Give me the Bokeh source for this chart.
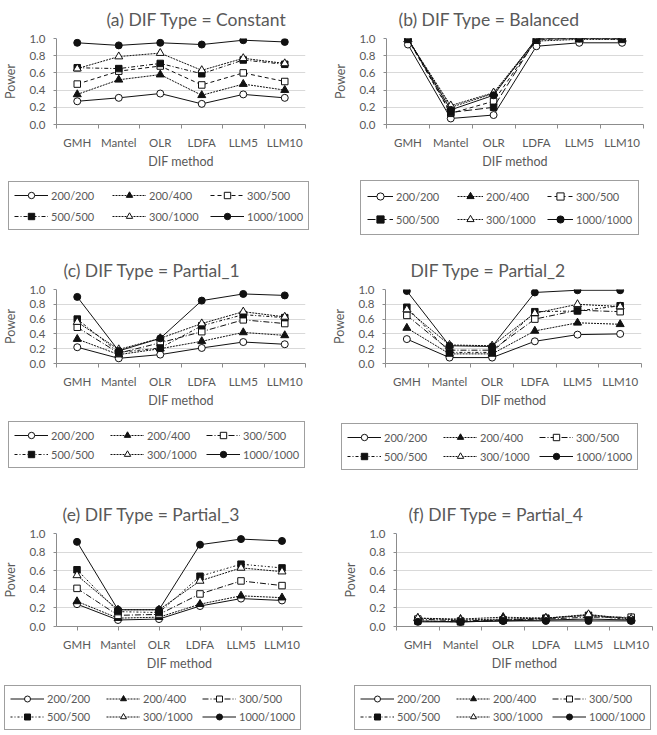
from bokeh.plotting import figure
from bokeh.layouts import column, row
from bokeh.models import (Legend, LegendItem, FixedTicker, Range1d, ColumnDataSource,
                          NumeralTickFormatter, Title)
from bokeh.embed import file_html
from bokeh.resources import INLINE

# ---------------- data ----------------
methods = ["GMH", "Mantel", "OLR", "LDFA", "LLM5", "LLM10"]
series_names = ["200/200", "200/400", "300/500", "500/500", "300/1000", "1000/1000"]
power_ticks = [0.0, 0.2, 0.4, 0.6, 0.8, 1.0]

# (a) Constant
constant_200_200 = [0.27, 0.31, 0.36, 0.24, 0.35, 0.31]
constant_200_400 = [0.35, 0.52, 0.58, 0.34, 0.47, 0.40]
constant_300_500 = [0.47, 0.62, 0.68, 0.46, 0.60, 0.50]
constant_500_500 = [0.66, 0.65, 0.71, 0.59, 0.75, 0.70]
constant_300_1000 = [0.65, 0.79, 0.83, 0.63, 0.77, 0.71]
constant_1000_1000 = [0.95, 0.92, 0.95, 0.93, 0.98, 0.96]

# (b) Balanced
balanced_200_200 = [0.93, 0.07, 0.11, 0.91, 0.95, 0.95]
balanced_200_400 = [0.99, 0.20, 0.36, 0.97, 0.99, 0.99]
balanced_300_500 = [0.99, 0.13, 0.27, 0.99, 1.00, 0.99]
balanced_500_500 = [1.00, 0.14, 0.20, 1.00, 1.00, 1.00]
balanced_300_1000 = [0.99, 0.22, 0.37, 0.99, 1.00, 1.00]
balanced_1000_1000 = [1.00, 0.17, 0.34, 1.00, 1.00, 1.00]

# (c) Partial_1
partial1_200_200 = [0.22, 0.07, 0.12, 0.21, 0.29, 0.26]
partial1_200_400 = [0.33, 0.12, 0.20, 0.30, 0.42, 0.38]
partial1_300_500 = [0.49, 0.14, 0.28, 0.43, 0.59, 0.54]
partial1_500_500 = [0.60, 0.15, 0.21, 0.51, 0.66, 0.62]
partial1_300_1000 = [0.56, 0.19, 0.34, 0.54, 0.70, 0.63]
partial1_1000_1000 = [0.90, 0.17, 0.34, 0.85, 0.94, 0.92]

# (d) Partial_2
partial2_200_200 = [0.33, 0.08, 0.08, 0.30, 0.39, 0.40]
partial2_200_400 = [0.48, 0.13, 0.13, 0.44, 0.55, 0.53]
partial2_300_500 = [0.65, 0.18, 0.18, 0.60, 0.72, 0.70]
partial2_500_500 = [0.76, 0.15, 0.15, 0.70, 0.71, 0.78]
partial2_300_1000 = [0.73, 0.25, 0.24, 0.68, 0.80, 0.77]
partial2_1000_1000 = [0.98, 0.24, 0.23, 0.96, 0.99, 0.99]

# (e) Partial_3
partial3_200_200 = [0.24, 0.07, 0.08, 0.22, 0.30, 0.28]
partial3_200_400 = [0.27, 0.09, 0.10, 0.24, 0.33, 0.31]
partial3_300_500 = [0.41, 0.12, 0.13, 0.35, 0.49, 0.44]
partial3_500_500 = [0.61, 0.16, 0.15, 0.54, 0.67, 0.63]
partial3_300_1000 = [0.55, 0.18, 0.18, 0.49, 0.63, 0.59]
partial3_1000_1000 = [0.91, 0.18, 0.18, 0.88, 0.94, 0.92]

# (f) Partial_4
partial4_200_200 = [0.06, 0.05, 0.06, 0.07, 0.08, 0.07]
partial4_200_400 = [0.09, 0.08, 0.10, 0.09, 0.12, 0.09]
partial4_300_500 = [0.08, 0.06, 0.07, 0.08, 0.10, 0.10]
partial4_500_500 = [0.06, 0.05, 0.07, 0.09, 0.12, 0.07]
partial4_300_1000 = [0.09, 0.07, 0.08, 0.09, 0.13, 0.08]
partial4_1000_1000 = [0.05, 0.05, 0.06, 0.06, 0.06, 0.06]

titles = ["(a) DIF Type = Constant", "(b) DIF Type = Balanced",
          "(c) DIF Type = Partial_1", "DIF Type = Partial_2",
          "(e) DIF Type = Partial_3", "(f) DIF Type = Partial_4"]

panel_data = [
    [constant_200_200, constant_200_400, constant_300_500, constant_500_500, constant_300_1000, constant_1000_1000],
    [balanced_200_200, balanced_200_400, balanced_300_500, balanced_500_500, balanced_300_1000, balanced_1000_1000],
    [partial1_200_200, partial1_200_400, partial1_300_500, partial1_500_500, partial1_300_1000, partial1_1000_1000],
    [partial2_200_200, partial2_200_400, partial2_300_500, partial2_500_500, partial2_300_1000, partial2_1000_1000],
    [partial3_200_200, partial3_200_400, partial3_300_500, partial3_500_500, partial3_300_1000, partial3_1000_1000],
    [partial4_200_200, partial4_200_400, partial4_300_500, partial4_500_500, partial4_300_1000, partial4_1000_1000],
]

# ---------------- styles ----------------
FONT = "Lato"
TXT = "#595959"
AXIS = "#8c8c8c"
GRID = "#d9d9d9"
INK = "#111111"
PAGE_W = 657

markers = ["circle", "triangle", "square", "square", "triangle", "circle"]
fills = ["white", INK, "white", INK, "white", INK]
marker_sizes = [7, 8, 6.5, 6.5, 8, 7]
dash_sets = [
    ["solid", "2 1", "4 3", "4 2 1 2", "2 1", "solid"],
    ["solid", "2 1", "4 3", "8 3", "2 1", "solid"],
    ["solid", "2 1", "6 2 1 2", "3 2 1 2", "2 1", "solid"],
    ["solid", "2 1", "6 2 1 2", "3 2 1 2", "2 1", "solid"],
    ["solid", "2 1", "6 2 1 2", "2 2 1 2", "2 1", "solid"],
    ["solid", "2 1", "6 2 1 2", "3 2 1 2", "2 1", "solid"],
]

# rows: top y, plot-part height, legend-strip height
rows_spec = [(0, 178, 62), (240, 178, 72), (490, 190, 55)]

# per panel: figure x0 / width, frame (l, r, t, b), legend (left, top, pad, glyph h, spacing, glyph w), title x
layouts = [
    dict(x0=0, w=328, frame=(53, 305, 38, 124), leg=(8, 183, 5, 16, 5, 34), tx=103, center_ticks=False),
    dict(x0=328, w=329, frame=(386, 643, 38, 128), leg=(360, 182, 6, 18, 5, 26), tx=398, center_ticks=False),
    dict(x0=0, w=328, frame=(53, 305, 288, 363), leg=(8, 423, 5, 16, 3, 34), tx=60, center_ticks=False),
    dict(x0=328, w=329, frame=(385, 641, 289, 365), leg=(341, 425, 5, 16, 3, 34), tx=410, center_ticks=False),
    dict(x0=0, w=328, frame=(51, 302, 532, 626), leg=(4, 687, 5, 15, 3, 34), tx=57, center_ticks=True),
    dict(x0=328, w=329, frame=(396, 652, 533, 627), leg=(354, 687, 5, 15, 3, 34), tx=408, center_ticks=False),
]

centers = [i + 0.5 for i in range(len(methods))]
bounds = [float(i) for i in range(len(methods) + 1)]


def add_series(fig, k, s, src, visible=True):
    lr = fig.line("x", "y", source=src, line_color=INK, line_width=1, line_dash=dash_sets[k][s],
                  visible=visible)
    sr = fig.scatter("x", "y", source=src, marker=markers[s], size=marker_sizes[s],
                     fill_color=fills[s], line_color=INK, line_width=1, visible=visible)
    return lr, sr


def make_plot(k, y0, PH, q, q_y0, QH):
    L = layouts[k]
    fl, fr, ft, fb = L["frame"]
    x0, W = L["x0"], L["w"]
    p = figure(width=W, height=PH, x_range=Range1d(0, len(methods)), y_range=Range1d(0, 1),
               output_backend="svg", toolbar_location=None,
               min_border_left=fl - x0, min_border_right=x0 + W - fr,
               min_border_top=ft - y0, min_border_bottom=y0 + PH - fb)
    p.outline_line_color = None
    p.background_fill_color = "white"
    p.border_fill_color = "white"

    # white spacer next to the frame, then the title above it
    spacer = Title(text=".", text_font=FONT, text_font_size="10px", text_color="white", standoff=0)
    p.add_layout(spacer, "above")
    title = Title(text=titles[k], align="left", offset=L["tx"] - fl, text_font=FONT,
                  text_font_size="17.5px", text_font_style="normal", text_color=TXT,
                  standoff=0, vertical_align="bottom")
    p.add_layout(title, "above")

    xa = p.xaxis[0]
    if L["center_ticks"]:
        xa.ticker = FixedTicker(ticks=centers)
        xa.major_tick_out = 4
    else:
        xa.ticker = FixedTicker(ticks=centers, minor_ticks=bounds)
        xa.major_tick_out = 0
        xa.minor_tick_out = 4
        xa.minor_tick_in = 0
        xa.minor_tick_line_color = AXIS
    xa.major_tick_in = 0
    xa.major_label_overrides = {c: m for c, m in zip(centers, methods)}
    xa.axis_label = "DIF method"
    xa.major_label_standoff = 7
    xa.axis_label_standoff = 2

    ya = p.yaxis[0]
    ya.ticker = FixedTicker(ticks=power_ticks)
    ya.formatter = NumeralTickFormatter(format="0.0")
    ya.major_tick_out = 3
    ya.major_tick_in = 0
    ya.minor_tick_out = 0
    ya.axis_label = "Power"
    ya.major_label_standoff = 8
    ya.axis_label_standoff = 8

    for ax in (xa, ya):
        ax.axis_line_color = AXIS
        ax.major_tick_line_color = AXIS
        ax.major_label_text_font = FONT
        ax.major_label_text_font_size = "11.5px"
        ax.major_label_text_color = TXT
        ax.axis_label_text_font = FONT
        ax.axis_label_text_font_size = "12.5px"
        ax.axis_label_text_font_style = "normal"
        ax.axis_label_text_color = TXT

    p.xgrid.visible = False
    p.ygrid.grid_line_color = GRID

    items = []
    for s, name in enumerate(series_names):
        src = ColumnDataSource(dict(x=centers, y=panel_data[k][s]))
        add_series(p, k, s, src)
        lr, sr = add_series(q, k, s, src, visible=False)
        items.append(LegendItem(label=name, renderers=[lr, sr]))

    lx, ly, pad, gh, sp, gw = L["leg"]
    lh = 2 * pad + 2 * gh + sp
    top_in_q = ly - q_y0
    legend = Legend(items=items, orientation="horizontal", ncols=3, nrows=2,
                    location=(lx, QH - top_in_q - lh),
                    padding=pad, spacing=sp, glyph_height=gh, glyph_width=gw,
                    label_height=gh, label_width=56, label_standoff=3, margin=0,
                    label_text_font=FONT, label_text_font_size="11px", label_text_color=TXT,
                    border_line_color="#404040", border_line_width=1,
                    background_fill_color="white", background_fill_alpha=1,
                    inactive_fill_alpha=0)
    q.add_layout(legend)
    return p


children = []
for r, (y0, PH, QH) in enumerate(rows_spec):
    # legend strip spanning the full page width for this row of panels
    q = figure(width=PAGE_W, height=QH, x_range=Range1d(0, len(methods)), y_range=Range1d(0, 1),
               output_backend="svg", toolbar_location=None, x_axis_type=None, y_axis_type=None,
               min_border=0, min_border_left=0, min_border_right=0, min_border_top=0,
               min_border_bottom=0)
    q.outline_line_color = None
    q.xgrid.visible = False
    q.ygrid.visible = False
    left = make_plot(2 * r, y0, PH, q, y0 + PH, QH)
    right = make_plot(2 * r + 1, y0, PH, q, y0 + PH, QH)
    children.append(row(left, right))
    children.append(q)

layout = column(*children)

open("out.html", "w").write(file_html(layout, INLINE))
